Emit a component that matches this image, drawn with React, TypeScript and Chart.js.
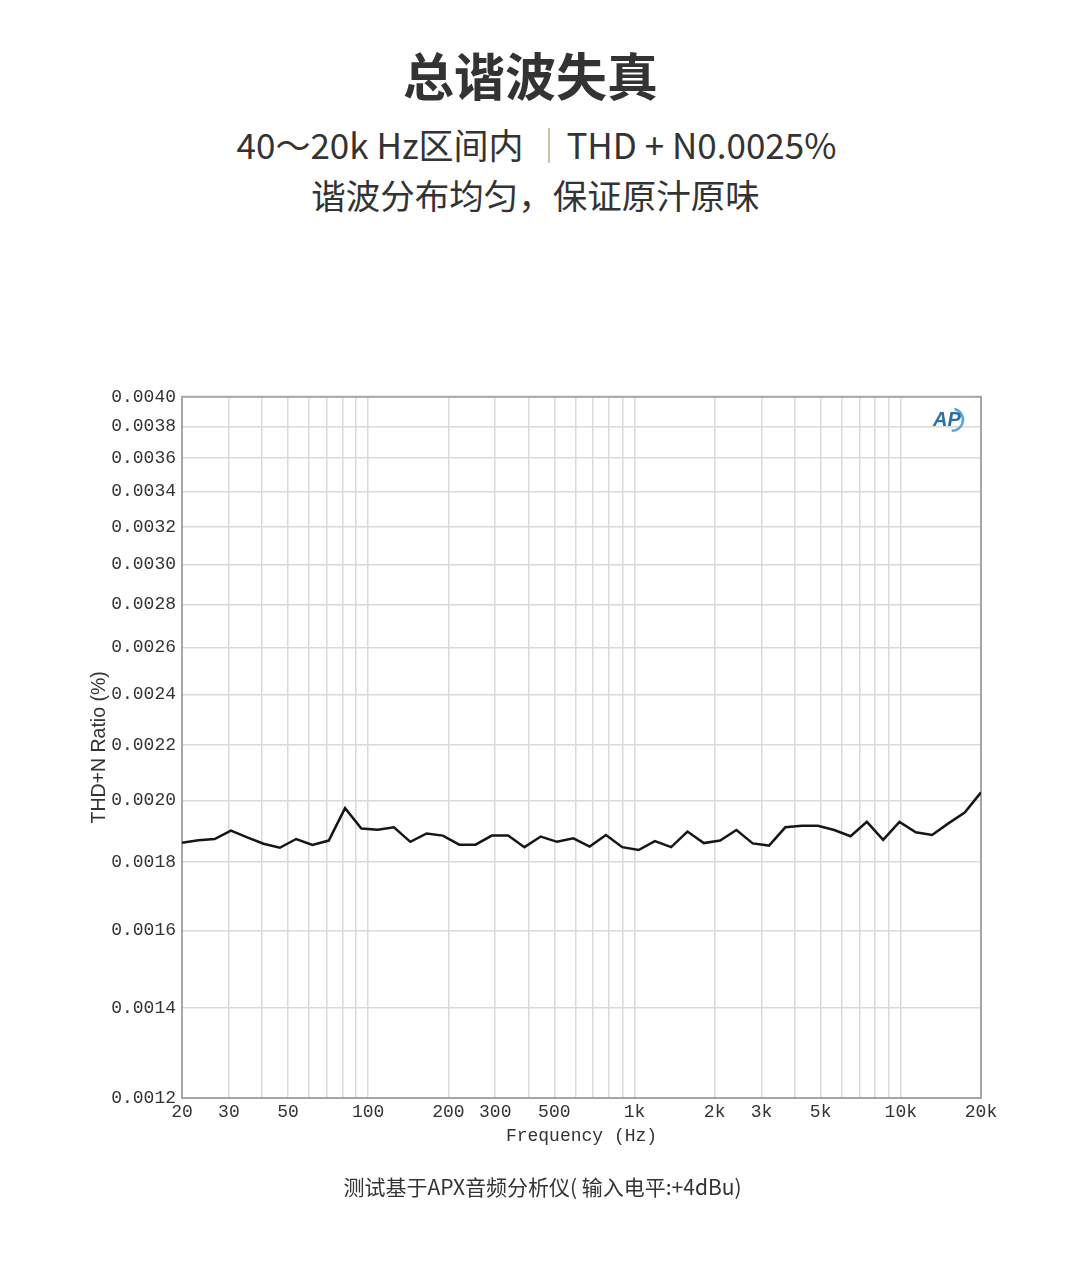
import React, { useEffect, useRef } from 'react';
import { Chart, registerables } from 'chart.js';

Chart.register(...registerables);

// Frequencies (Hz) of the measurement points
const FREQUENCIES = [
  20, 23.03, 26.52, 30.53, 35.15, 40.47, 46.6, 53.66, 61.78, 71.13,
  81.9, 94.3, 108.6, 125.0, 144.0, 165.8, 190.8, 219.8, 253.0, 291.3,
  335.4, 386.2, 444.6, 512.0, 589.5, 678.7, 781.5, 899.8, 1036, 1193,
  1373, 1581, 1821, 2096, 2414, 2779, 3200, 3684, 4242, 4884,
  5624, 6475, 7455, 8584, 9884, 11381, 13104, 15088, 17372, 20000,
];

// THD+N ratio (%) at each frequency
const THD_N = [
  0.00186, 0.001868, 0.001872, 0.001899, 0.001877, 0.001857, 0.001844, 0.001872, 0.001853, 0.001867,
  0.001974, 0.001906, 0.001902, 0.00191, 0.001863, 0.00189, 0.001883, 0.001854, 0.001854, 0.001883,
  0.001883, 0.001846, 0.00188, 0.001863, 0.001874, 0.001848, 0.001885, 0.001846, 0.001837, 0.001865,
  0.001846, 0.001896, 0.001859, 0.001867, 0.001901, 0.001858, 0.001851, 0.00191, 0.001915, 0.001915,
  0.001901, 0.001881, 0.001928, 0.001869, 0.001928, 0.001894, 0.001885, 0.001923, 0.001959, 0.002028,
];

const Y_TICKS = [
  0.0012, 0.0014, 0.0016, 0.0018, 0.002, 0.0022, 0.0024, 0.0026,
  0.0028, 0.003, 0.0032, 0.0034, 0.0036, 0.0038, 0.004,
];

const X_GRID = [
  20, 30, 40, 50, 60, 70, 80, 90,
  100, 200, 300, 400, 500, 600, 700, 800, 900,
  1000, 2000, 3000, 4000, 5000, 6000, 7000, 8000, 9000,
  10000, 20000,
];
const X_LABEL_VALUES = [20, 30, 50, 100, 200, 300, 500, 1000, 2000, 3000, 5000, 10000, 20000];
const X_LABEL_TEXT = ['20', '30', '50', '100', '200', '300', '500', '1k', '2k', '3k', '5k', '10k', '20k'];

const TITLE = '总谐波失真';
const LINE2_A = '40～20k Hz区间内 ';
const LINE2_SEP = '｜';
const LINE2_B = 'THD + N0.0025%';
const LINE3 = '谐波分布均匀，保证原汁原味';
const FOOTER = '测试基于APX音频分析仪( 输入电平:+4dBu)';
const X_TITLE = 'Frequency (Hz)';
const Y_TITLE = 'THD+N Ratio (%)';

const framePlugin = {
  id: 'frame',
  beforeDatasetsDraw(chart: any) {
    const { ctx, chartArea: a } = chart;
    ctx.save();
    ctx.strokeStyle = '#a6a6a6';
    ctx.lineWidth = 2;
    ctx.strokeRect(a.left, a.top, a.right - a.left, a.bottom - a.top);
    // AP logo
    const cx = a.right - 31;
    const cy = a.top + 23;
    ctx.strokeStyle = '#5aa9dc';
    ctx.lineWidth = 2.6;
    ctx.beginPath();
    ctx.arc(cx + 2, cy, 11, -1.35, 1.6);
    ctx.stroke();
    ctx.font = 'italic bold 20px "Liberation Sans"';
    ctx.fillStyle = '#2c6ea8';
    ctx.textAlign = 'center';
    ctx.textBaseline = 'middle';
    ctx.fillText('AP', cx - 3, cy + 1);
    ctx.restore();
  },
};

export default function App() {
  const canvasRef = useRef<HTMLCanvasElement | null>(null);

  useEffect(() => {
    if (!canvasRef.current) return;
    const chart = new Chart(canvasRef.current, {
      type: 'line',
      data: {
        datasets: [
          {
            data: FREQUENCIES.map((f, i) => ({ x: f, y: THD_N[i] })),
            borderColor: '#161616',
            borderWidth: 2.5,
            pointRadius: 0,
            tension: 0,
            fill: false,
          },
        ],
      },
      options: {
        animation: false,
        responsive: false,
        layout: { padding: { left: 0, right: 100, top: 15, bottom: 0 } },
        plugins: { legend: { display: false }, tooltip: { enabled: false } },
        scales: {
          x: {
            type: 'logarithmic',
            min: 20,
            max: 20000,
            border: { display: false },
            grid: { color: '#dadada', lineWidth: 1.5, drawTicks: false },
            afterBuildTicks: (scale: any) => {
              scale.ticks = X_GRID.map((v) => ({ value: v }));
            },
            afterFit: (scale: any) => {
              scale.height = 82;
            },
            ticks: {
              autoSkip: false,
              maxRotation: 0,
              minRotation: 0,
              padding: 3,
              color: '#333',
              font: { family: '"Liberation Mono", monospace', size: 18 },
              callback: (value: any) => {
                const idx = X_LABEL_VALUES.indexOf(Number(value));
                return idx >= 0 ? X_LABEL_TEXT[idx] : '';
              },
            },
            title: {
              display: true,
              text: X_TITLE,
              color: '#333',
              font: { family: '"Liberation Mono", monospace', size: 18 },
              padding: { top: 0, bottom: 33 },
            },
          },
          y: {
            type: 'logarithmic',
            min: 0.0012,
            max: 0.004,
            border: { display: false },
            grid: { color: '#dadada', lineWidth: 1.5, drawTicks: false },
            afterBuildTicks: (scale: any) => {
              scale.ticks = Y_TICKS.map((v) => ({ value: v }));
            },
            afterFit: (scale: any) => {
              scale.width = 182;
            },
            ticks: {
              autoSkip: false,
              padding: 6,
              color: '#333',
              font: { family: '"Liberation Mono", monospace', size: 18 },
              callback: (value: any) => Number(value).toFixed(4),
            },
            title: {
              display: true,
              text: Y_TITLE,
              color: '#333',
              font: { family: '"Liberation Sans", Arial, sans-serif', size: 19.5 },
              padding: { top: 88, bottom: 0 },
            },
          },
        },
      },
      plugins: [framePlugin],
    });
    return () => chart.destroy();
  }, []);

  const cjk = '"Noto Sans CJK SC", "Noto Sans", sans-serif';

  return (
    <div
      style={{
        position: 'absolute',
        left: 0,
        top: 0,
        width: 1081,
        height: 1274,
        overflow: 'hidden',
        background: '#ffffff',
        fontFamily: cjk,
        color: '#333',
      }}
    >
      <div
        style={{
          position: 'absolute', left: -10, top: 49, width: 1081, textAlign: 'center',
          fontSize: 51, lineHeight: '51px', fontWeight: 700, color: '#333',
        }}
      >
        {TITLE}
      </div>
      <div
        style={{
          position: 'absolute', left: -4, top: 126, width: 1081, textAlign: 'center',
          fontSize: 35, lineHeight: '35px', color: '#333', whiteSpace: 'pre',
        }}
      >
        {LINE2_A}
        <span style={{ color: '#aaa', fontWeight: 300 }}>{LINE2_SEP}</span>
        {LINE2_B}
      </div>
      <div
        style={{
          position: 'absolute', left: -5, top: 177, width: 1081, textAlign: 'center',
          fontSize: 34.5, lineHeight: '34.5px', color: '#333',
        }}
      >
        {LINE3}
      </div>
      <canvas
        ref={canvasRef}
        width={1081}
        height={800}
        style={{ position: 'absolute', left: 0, top: 380, width: 1081, height: 800 }}
      />
      <div
        style={{
          position: 'absolute', left: 2, top: 1176, width: 1081, textAlign: 'center',
          fontSize: 21, lineHeight: '21px', color: '#333',
        }}
      >
        {FOOTER}
      </div>
    </div>
  );
}
